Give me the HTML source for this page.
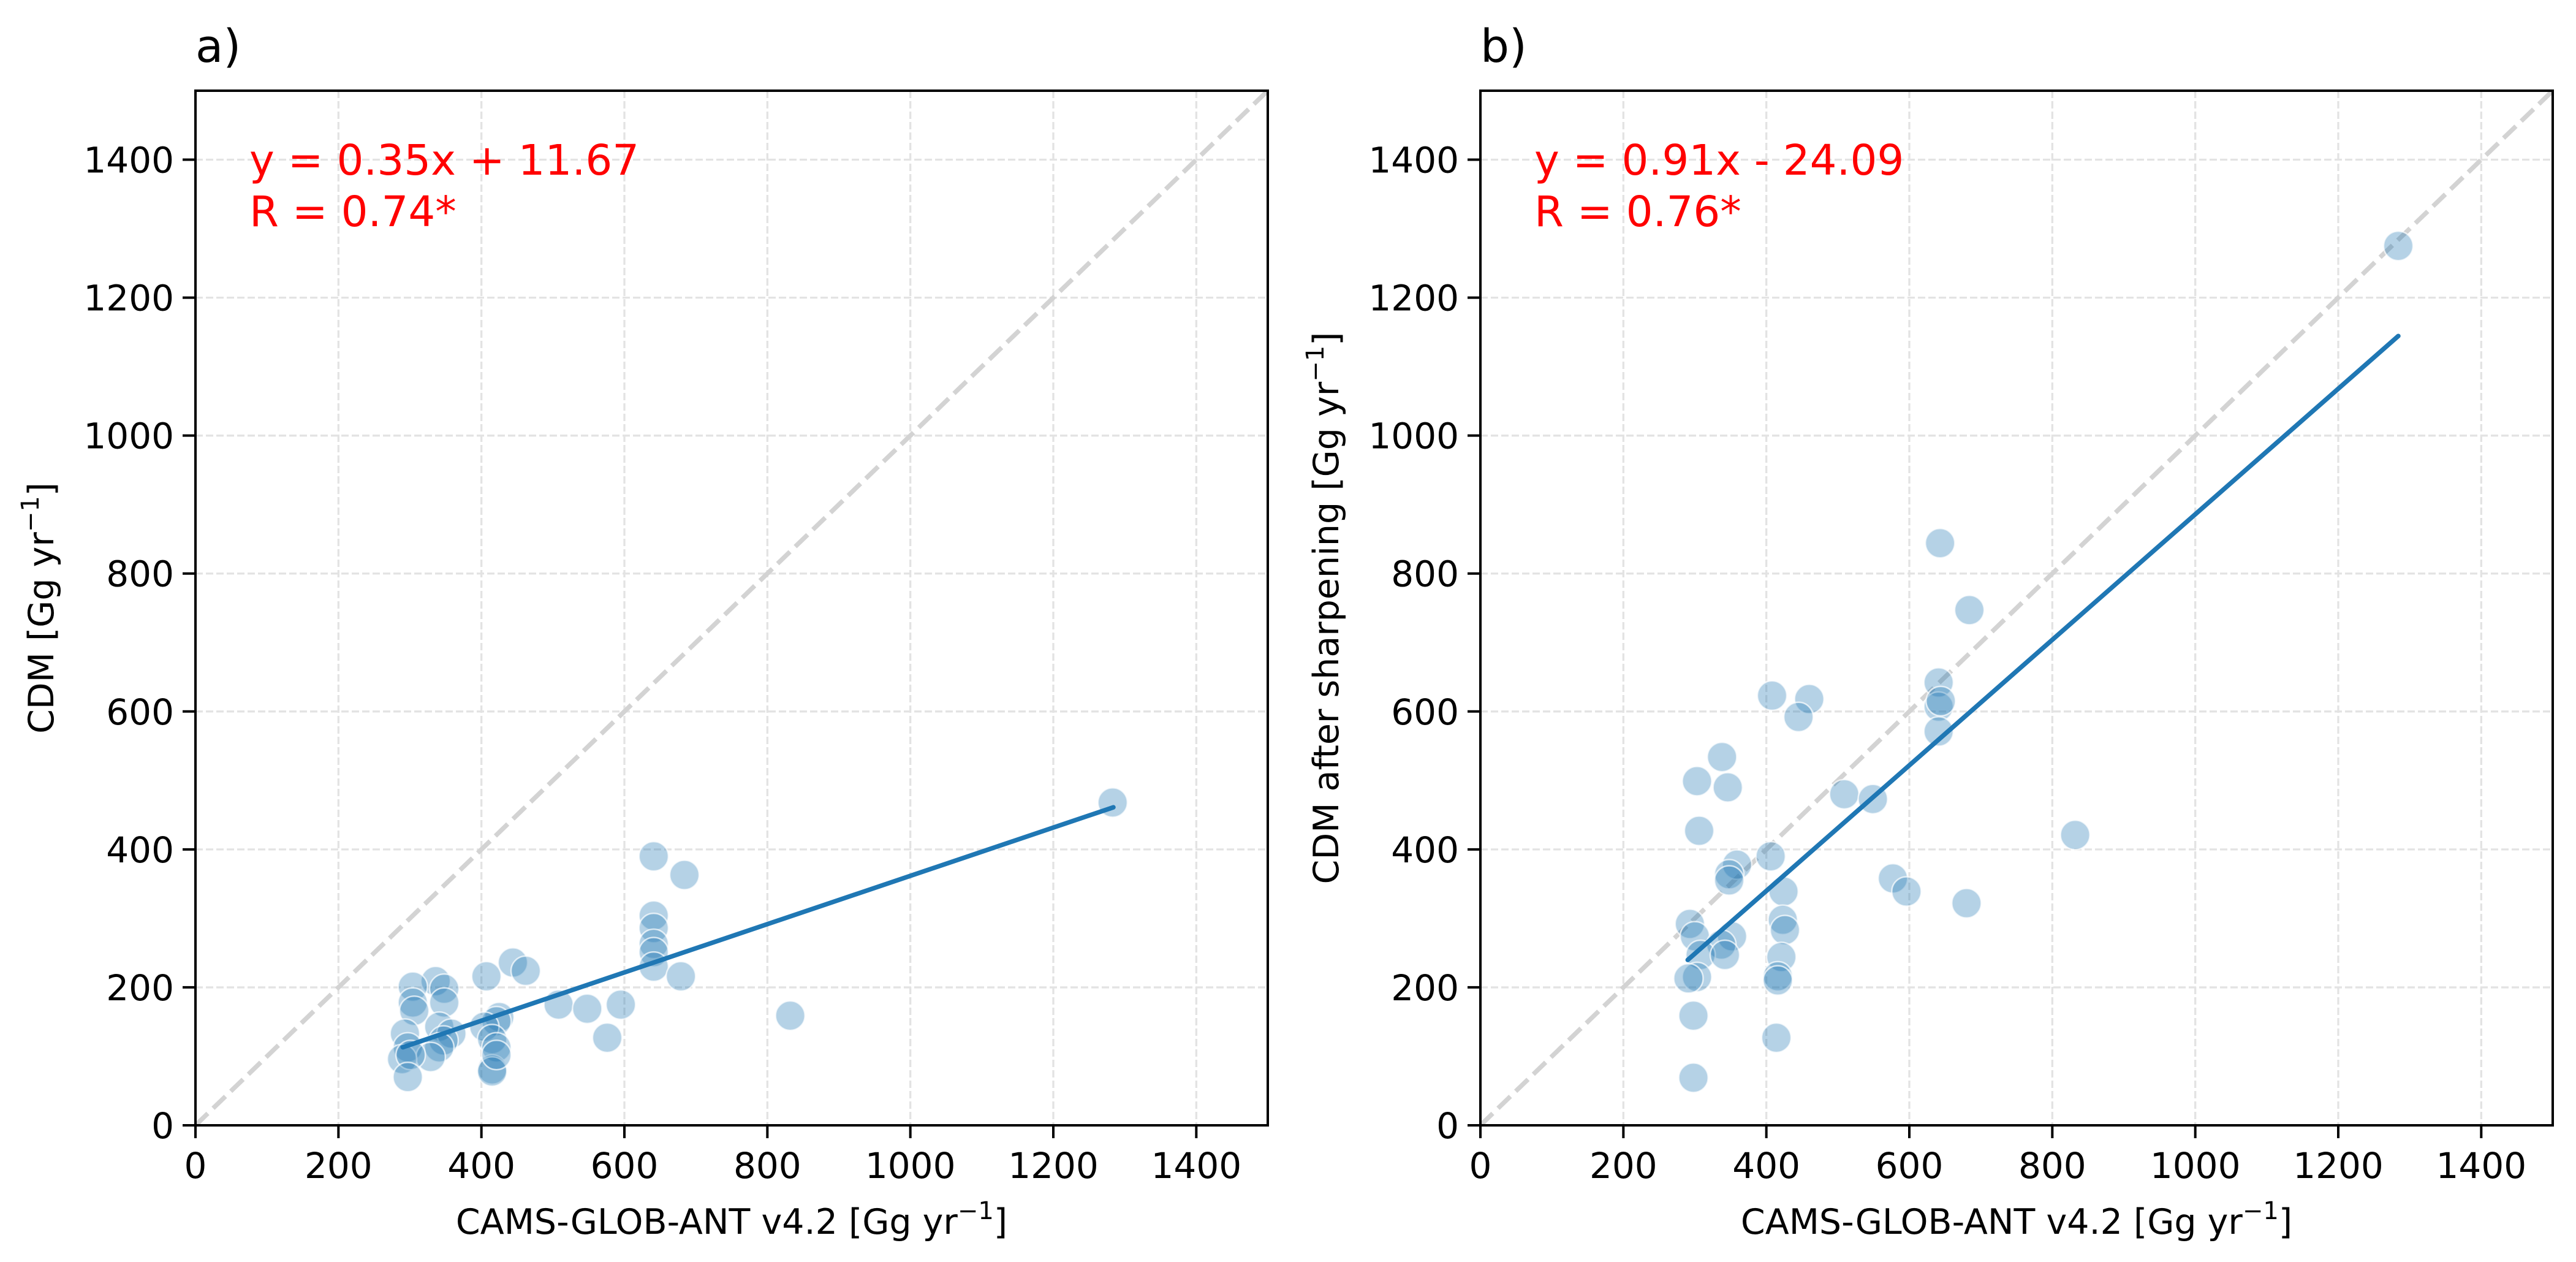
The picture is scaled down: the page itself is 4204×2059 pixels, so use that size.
<!DOCTYPE html>
<html><head><meta charset="utf-8"><style>
html,body{margin:0;padding:0;background:#fff;}
svg{display:block;font-family:"DejaVu Sans","Liberation Sans",sans-serif;}
</style></head><body>
<svg id="fig" width="4204" height="2059" viewBox="0 0 4204 2059" xmlns="http://www.w3.org/2000/svg"></svg>
<script>
const ticks = [0,200,400,600,800,1000,1200,1400];
const tickLabels = ["0","200","400","600","800","1000","1200","1400"];
const xA = [1283,641,684,641,641,641,641,641,679,832,407,444,462,508,548,595,576,336,304,348,348,304,306,425,421,404,341,358,293,415,421,347,341,297,329,289,301,415,415,297,421];
const yA = [468,390,363,304,286,263,251,230,216,159,216,236,224,175,169,175,127,209,201,198,178,178,166,157,151,143,143,133,133,125,113,123,113,113,99,96,102,81,78,70,102];
const xB = [1284,643,684,408,460,445,641,641,644,641,338,303,346,509,549,306,832,406,359,348,348,577,596,424,680,423,293,426,300,352,337,308,342,421,303,291,416,416,298,414,298];
const yB = [1275,844,747,623,618,592,642,607,615,571,534,499,490,480,473,427,421,390,378,364,355,358,339,339,322,298,292,283,274,274,262,247,247,244,215,213,216,210,159,127,69];
const fitA = [0.35, 11.67];
const fitB = [0.91, -24.09];
const fitRange = [290, 1284];

const NS="http://www.w3.org/2000/svg";
const svg=document.getElementById('fig');
function el(tag,attrs,parent){const e=document.createElementNS(NS,tag);for(const k in attrs)e.setAttribute(k,attrs[k]);(parent||svg).appendChild(e);return e;}

function panel(L,letter,xs,ys,fit,eq,r,ylab){
  const T=148,W=1750,H=1688,B=T+H,R=L+W;
  const sx=v=>L+v/1500*W, sy=v=>B-v/1500*H;
  const g=el('g',{});
  
  
  ticks.forEach(t=>{
    const gx=el('line',{x1:sx(t),x2:sx(t),y1:T,y2:B,stroke:'#e3e3e3','stroke-width':3.3,'stroke-dasharray':'12 5'},g);
    
    
    const gy=el('line',{x1:L,x2:R,y1:sy(t),y2:sy(t),stroke:'#e3e3e3','stroke-width':3.3,'stroke-dasharray':'12 5'},g);
    
    
  });
  const d=el('line',{x1:sx(0),y1:sy(0),x2:sx(1500),y2:sy(1500),stroke:'#d3d3d3','stroke-width':7.5,'stroke-dasharray':'28 12'},g);
  
  
  xs.forEach((x,i)=>{
    const c=el('circle',{cx:sx(x),cy:sy(ys[i]),r:24,fill:'rgba(31,119,180,0.33)',stroke:'rgba(255,255,255,0.7)','stroke-width':2.5},g);
    
    
  });
  const fl=el('line',{x1:sx(fitRange[0]),y1:sy(fit[0]*fitRange[0]+fit[1]),x2:sx(fitRange[1]),y2:sy(fit[0]*fitRange[1]+fit[1]),stroke:'#1f77b4','stroke-width':7.5,'stroke-linecap':'round'},g);
  
  
  const fr=el('rect',{x:L,y:T,width:W,height:H,fill:'none',stroke:'#000','stroke-width':4},g);
  
  
  ticks.forEach((t,i)=>{
    el('line',{x1:sx(t),x2:sx(t),y1:B,y2:B+21,stroke:'#000','stroke-width':4},g);
    el('line',{x1:L-21,x2:L,y1:sy(t),y2:sy(t),stroke:'#000','stroke-width':4},g);
    const tx=el('text',{x:sx(t),y:B+86,'font-size':58,'text-anchor':'middle',fill:'#000'},g);
    tx.textContent=tickLabels[i];
    
    
    const ty=el('text',{x:L-35,y:sy(t)+21,'font-size':58,'text-anchor':'end',fill:'#000'},g);
    ty.textContent=tickLabels[i];
    
    
  });
  const xl=el('text',{x:L+W/2,y:2013,'font-size':57,'text-anchor':'middle',fill:'#000'},g);
  xl.innerHTML='CAMS-GLOB-ANT v4.2 [Gg yr<tspan dy="-24" font-size="40">−1</tspan><tspan dy="24">]</tspan>';
  
  
  const yl=el('text',{x:0,y:0,'font-size':57,'text-anchor':'middle',fill:'#000',transform:`translate(${L-232},${T+H/2}) rotate(-90)`},g);
  yl.innerHTML=ylab+' [Gg yr<tspan dy="-24" font-size="40">−1</tspan><tspan dy="24">]</tspan>';
  
  
  const tt=el('text',{x:L,y:101,'font-size':74,fill:'#000'},g);
  tt.textContent=letter+')';
  
  
  const a1=el('text',{x:L+88,y:285,'font-size':69,fill:'#ff0000'},g);
  a1.textContent=eq;
  
  
  const a2=el('text',{x:L+88,y:369,'font-size':69,fill:'#ff0000'},g);
  a2.textContent=r;
  
  
}
panel(319,'a',xA,yA,fitA,'y = 0.35x + 11.67','R = 0.74*','CDM');
panel(2416,'b',xB,yB,fitB,'y = 0.91x - 24.09','R = 0.76*','CDM after sharpening');
</script>
</body></html>
